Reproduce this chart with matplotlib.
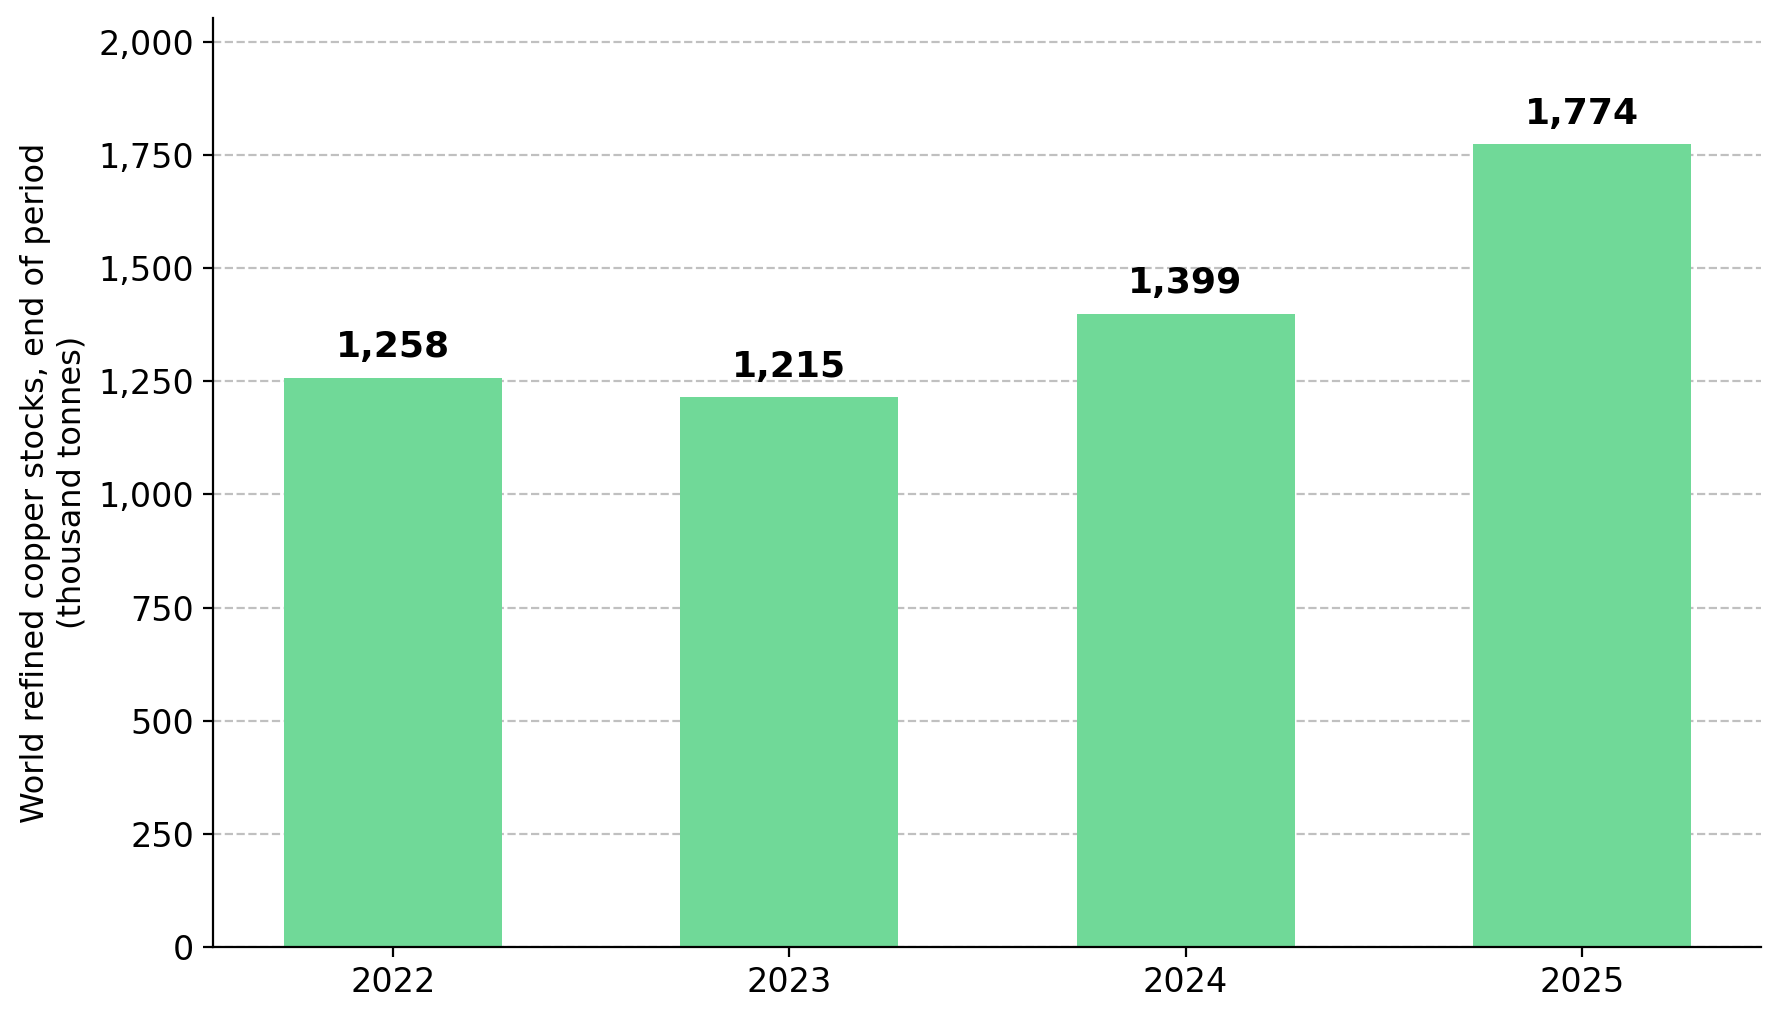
import matplotlib
matplotlib.use("Agg")
import matplotlib.pyplot as plt
from matplotlib.ticker import FuncFormatter

# data
years = ["2022", "2023", "2024", "2025"]
stocks = [1258, 1215, 1399, 1774]

plt.rcParams['font.family'] = ['DejaVu Sans']

fig, ax = plt.subplots(figsize=(8.895, 5.095), dpi=200)
fig.subplots_adjust(left=0.12, right=0.99, top=0.982, bottom=0.071)

x = range(len(years))
ax.bar(x, stocks, width=0.55, color="#70d998", zorder=2)

for xi, v in zip(x, stocks):
    ax.text(xi, v + 30, f"{v:,}", ha="center", va="bottom",
            fontsize=13, fontweight="bold")

ax.set_xticks(list(x))
ax.set_xticklabels(years)
ax.set_ylim(0, 2053)
ax.set_yticks(range(0, 2001, 250))
ax.yaxis.set_major_formatter(FuncFormatter(lambda v, p: f"{int(v):,}"))
ax.tick_params(labelsize=12)
ax.set_ylabel("World refined copper stocks, end of period\n(thousand tonnes)",
              fontsize=11.5)

ax.grid(axis="y", linestyle="--", color="#c0c0c0", linewidth=0.8, zorder=0)
ax.set_axisbelow(True)
ax.spines["top"].set_visible(False)
ax.spines["right"].set_visible(False)

fig.savefig("out.png", dpi=200)
